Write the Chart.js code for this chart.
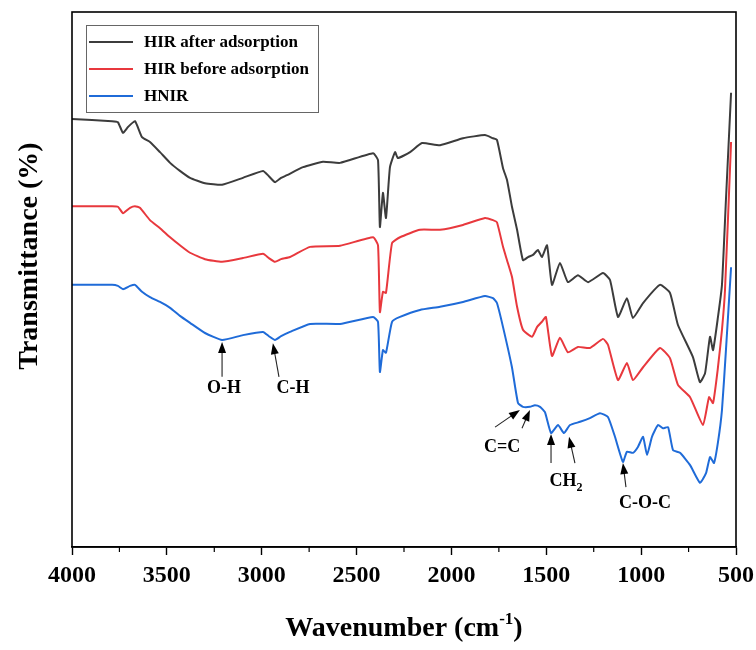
<!DOCTYPE html>
<html>
<head>
<meta charset="utf-8">
<script src="https://cdn.jsdelivr.net/npm/chart.js@4.4.1/dist/chart.umd.min.js"></script>
<style>
  html, body { margin: 0; padding: 0; background: #fff; }
  #wrap { width: 756px; height: 650px; }
</style>
</head>
<body>
<div id="wrap"><canvas id="ftir"></canvas></div>
<script>
// series meta
const seriesNames = ['HIR after adsorption', 'HIR before adsorption', 'HNIR'];
const seriesColors = ['#3c3c3c', '#e8383d', '#1f6bd8'];
const xTicks = [4000, 3500, 3000, 2500, 2000, 1500, 1000, 500];

// HIR after adsorption (black)
const afterWn = [4000, 3789, 3758, 3731, 3705, 3668, 3631, 3589, 3536, 3483, 3431, 3378, 3299, 3209, 3099, 2993, 2962, 2930, 2898, 2867, 2782, 2677, 2587, 2413, 2387, 2377, 2361, 2345, 2324, 2297, 2282, 2218, 2155, 2060, 1939, 1823, 1781, 1760, 1728, 1707, 1681, 1654, 1623, 1596, 1570, 1544, 1523, 1496, 1470, 1428, 1386, 1333, 1280, 1201, 1164, 1122, 1075, 1043, 990, 901, 848, 806, 727, 690, 663, 637, 621, 595, 574, 553, 526];
const afterT = [80.0, 79.6, 79.4, 77.4, 78.5, 79.6, 76.6, 75.7, 73.8, 71.8, 70.3, 69.0, 68.0, 67.7, 69.0, 70.3, 69.3, 68.2, 69.0, 69.5, 71.0, 72.0, 71.8, 73.6, 72.3, 59.8, 66.2, 61.5, 71.0, 73.8, 72.7, 73.8, 75.5, 75.1, 76.4, 77.0, 76.4, 76.1, 70.8, 68.6, 63.6, 59.3, 53.6, 54.2, 54.6, 55.5, 54.2, 56.4, 49.0, 53.1, 49.5, 50.8, 49.5, 51.2, 49.9, 43.0, 46.5, 42.8, 45.6, 49.0, 47.5, 41.5, 35.5, 30.8, 32.5, 39.3, 36.8, 43.0, 49.0, 64.9, 84.9];

// HIR before adsorption (red)
const beforeWn = [4000, 3789, 3758, 3731, 3694, 3668, 3642, 3589, 3536, 3483, 3431, 3378, 3299, 3209, 3099, 2993, 2962, 2930, 2898, 2851, 2745, 2587, 2413, 2387, 2377, 2361, 2345, 2313, 2271, 2166, 2060, 1939, 1823, 1781, 1760, 1728, 1707, 1681, 1654, 1623, 1575, 1549, 1523, 1502, 1470, 1428, 1386, 1333, 1270, 1201, 1175, 1122, 1075, 1043, 990, 901, 848, 806, 742, 674, 642, 621, 595, 574, 558, 526];
const beforeT = [63.7, 63.7, 63.6, 62.4, 63.4, 63.7, 63.4, 61.1, 59.6, 57.9, 56.4, 55.0, 53.8, 53.3, 54.0, 54.8, 54.0, 53.3, 53.8, 54.2, 56.1, 56.3, 57.9, 56.4, 43.9, 47.7, 47.5, 56.8, 57.9, 59.3, 59.3, 60.2, 61.5, 61.1, 60.7, 56.1, 53.6, 50.5, 44.9, 40.6, 39.3, 41.1, 42.1, 43.0, 35.7, 39.1, 36.4, 37.4, 37.2, 38.9, 37.8, 31.2, 34.4, 31.2, 33.6, 37.2, 35.3, 30.3, 28.0, 22.8, 28.0, 26.9, 33.6, 40.6, 48.0, 75.7];

// HNIR (blue)
const hnirWn = [4000, 3789, 3758, 3731, 3694, 3668, 3631, 3589, 3536, 3483, 3431, 3378, 3299, 3209, 3099, 2993, 2962, 2930, 2898, 2851, 2745, 2587, 2413, 2387, 2377, 2361, 2345, 2313, 2271, 2166, 2060, 1939, 1823, 1781, 1760, 1728, 1681, 1649, 1623, 1586, 1560, 1533, 1507, 1475, 1438, 1407, 1375, 1322, 1270, 1217, 1175, 1138, 1096, 1075, 1043, 1017, 990, 969, 943, 911, 885, 858, 832, 795, 742, 690, 658, 637, 616, 595, 574, 553, 526];
const hnirT = [49.0, 49.0, 48.8, 48.2, 48.8, 49.0, 47.7, 46.7, 45.8, 44.7, 43.2, 41.9, 40.0, 38.7, 39.6, 40.2, 39.4, 38.7, 39.4, 40.2, 41.7, 41.7, 43.0, 42.1, 32.7, 36.8, 36.3, 42.1, 43.0, 44.3, 44.9, 45.8, 46.9, 46.5, 45.6, 41.1, 33.6, 26.9, 26.2, 26.2, 26.5, 26.2, 25.2, 21.3, 22.8, 21.3, 22.8, 23.4, 24.1, 25.0, 24.3, 20.6, 15.9, 17.8, 17.6, 18.7, 20.6, 17.2, 20.6, 22.8, 22.2, 22.4, 18.1, 17.6, 15.3, 12.0, 13.8, 16.8, 15.7, 19.6, 25.6, 36.8, 52.3];

// peak assignments: arrows as [tipWn, tipT, tailWn, tailT], label position in data units
const peaks = [
  { text: 'O-H', arrows: [[3209, 38.3, 3209, 31.8]], at: [3199, 29.6] },
  { text: 'C-H', arrows: [[2941, 38.1, 2909, 31.8]], at: [2835, 29.6] },
  { text: 'C=C', arrows: [[1639, 25.6, 1770, 22.4], [1586, 25.6, 1628, 22.2]], at: [1733, 18.7] },
  { text: 'CH', sub: '2', arrows: [[1475, 21.1, 1475, 15.7], [1380, 20.6, 1349, 15.7]], at: [1396, 12.3] },
  { text: 'C-O-C', arrows: [[1096, 15.7, 1080, 11.2]], at: [980, 8.2] }
];

const SERIF = "'Liberation Serif', 'Times New Roman', 'DejaVu Serif', serif";

function toPoints(xs, ys) {
  return xs.map((x, i) => ({ x: x, y: ys[i] }));
}

function arrow(ctx, x1, y1, x2, y2) {
  const ang = Math.atan2(y2 - y1, x2 - x1);
  const len = 11, half = 4;
  ctx.beginPath();
  ctx.moveTo(x1, y1);
  ctx.lineTo(x2 - Math.cos(ang) * len * 0.7, y2 - Math.sin(ang) * len * 0.7);
  ctx.stroke();
  ctx.beginPath();
  ctx.moveTo(x2, y2);
  ctx.lineTo(x2 - len * Math.cos(ang) + half * Math.sin(ang), y2 - len * Math.sin(ang) - half * Math.cos(ang));
  ctx.lineTo(x2 - len * Math.cos(ang) - half * Math.sin(ang), y2 - len * Math.sin(ang) + half * Math.cos(ang));
  ctx.closePath();
  ctx.fill();
}

const decorPlugin = {
  id: 'decor',
  afterDraw(chart) {
    const ctx = chart.ctx;
    const area = chart.chartArea;
    const xs = chart.scales.x, ys = chart.scales.y;
    ctx.save();

    // frame
    ctx.strokeStyle = '#000';
    ctx.lineWidth = 1.6;
    ctx.strokeRect(area.left, area.top, area.right - area.left, area.bottom - area.top);

    // minor ticks
    ctx.lineWidth = 1.2;
    for (let v = 750; v < 4000; v += 500) {
      const px = xs.getPixelForValue(v);
      ctx.beginPath();
      ctx.moveTo(px, area.bottom);
      ctx.lineTo(px, area.bottom + 5);
      ctx.stroke();
    }

    // peak arrows and labels
    ctx.fillStyle = '#000';
    ctx.strokeStyle = '#222';
    ctx.lineWidth = 1.1;
    peaks.forEach(p => {
      p.arrows.forEach(a => {
        arrow(ctx, xs.getPixelForValue(a[2]), ys.getPixelForValue(a[3]),
          xs.getPixelForValue(a[0]), ys.getPixelForValue(a[1]));
      });
      const cx = xs.getPixelForValue(p.at[0]);
      const cy = ys.getPixelForValue(p.at[1]);
      ctx.font = 'bold 18px ' + SERIF;
      ctx.textBaseline = 'middle';
      if (p.sub) {
        const w1 = ctx.measureText(p.text).width;
        ctx.font = 'bold 12px ' + SERIF;
        const w2 = ctx.measureText(p.sub).width;
        const left = cx - (w1 + w2) / 2;
        ctx.font = 'bold 18px ' + SERIF;
        ctx.textAlign = 'left';
        ctx.fillText(p.text, left, cy);
        ctx.font = 'bold 12px ' + SERIF;
        ctx.fillText(p.sub, left + w1, cy + 7);
      } else {
        ctx.textAlign = 'center';
        ctx.fillText(p.text, cx, cy);
      }
    });

    // legend
    ctx.strokeStyle = '#666';
    ctx.lineWidth = 1;
    ctx.strokeRect(86.5, 25.5, 232, 87);
    ctx.font = 'bold 17px ' + SERIF;
    ctx.textAlign = 'left';
    ctx.textBaseline = 'middle';
    chart.data.datasets.forEach((ds, i) => {
      const y = 42 + i * 27;
      ctx.strokeStyle = ds.borderColor;
      ctx.lineWidth = 2;
      ctx.beginPath();
      ctx.moveTo(89, y);
      ctx.lineTo(133, y);
      ctx.stroke();
      ctx.fillStyle = '#000';
      ctx.fillText(ds.label, 144, y + 1);
    });

    // axis titles
    ctx.fillStyle = '#000';
    ctx.font = 'bold 28px ' + SERIF;
    ctx.save();
    ctx.translate(30, 256);
    ctx.rotate(-Math.PI / 2);
    ctx.textAlign = 'center';
    ctx.textBaseline = 'middle';
    ctx.fillText('Transmittance (%)', 0, 0);
    ctx.restore();

    const main = 'Wavenumber (cm';
    ctx.font = 'bold 28px ' + SERIF;
    const wMain = ctx.measureText(main).width;
    const wClose = ctx.measureText(')').width;
    ctx.font = 'bold 17px ' + SERIF;
    const wSup = ctx.measureText('-1').width;
    let x0 = (area.left + area.right) / 2 - (wMain + wSup + wClose) / 2;
    const base = 636;
    ctx.textAlign = 'left';
    ctx.textBaseline = 'alphabetic';
    ctx.font = 'bold 28px ' + SERIF;
    ctx.fillText(main, x0, base);
    ctx.font = 'bold 17px ' + SERIF;
    ctx.fillText('-1', x0 + wMain, base - 12);
    ctx.font = 'bold 28px ' + SERIF;
    ctx.fillText(')', x0 + wMain + wSup, base);

    ctx.restore();
  }
};

const datasets = [
  { label: seriesNames[0], data: toPoints(afterWn, afterT), borderColor: seriesColors[0] },
  { label: seriesNames[1], data: toPoints(beforeWn, beforeT), borderColor: seriesColors[1] },
  { label: seriesNames[2], data: toPoints(hnirWn, hnirT), borderColor: seriesColors[2] }
].map(ds => Object.assign(ds, { borderWidth: 2, pointRadius: 0, tension: 0.15, fill: false }));

new Chart(document.getElementById('ftir'), {
  type: 'line',
  data: { datasets: datasets },
  options: {
    responsive: true,
    maintainAspectRatio: false,
    animation: false,
    devicePixelRatio: 1,
    layout: { padding: { top: 12, right: 20, left: 0, bottom: 0 } },
    plugins: { legend: { display: false }, tooltip: { enabled: false } },
    scales: {
      x: {
        type: 'linear',
        reverse: true,
        min: 500,
        max: 4000,
        afterBuildTicks: scale => { scale.ticks = xTicks.map(v => ({ value: v })); },
        afterFit: scale => {
          scale.height = 103;
          scale.paddingLeft = 0;
          scale.paddingRight = 0;
        },
        ticks: {
          color: '#000',
          padding: 6,
          maxRotation: 0,
          callback: v => String(v),
          font: { family: SERIF, size: 24, weight: 'bold' }
        },
        grid: { display: true, drawOnChartArea: false, drawTicks: true, tickLength: 8, tickColor: '#000', tickWidth: 1.4 },
        border: { display: true, color: '#000', width: 1.6 }
      },
      y: {
        min: 0,
        max: 100,
        afterFit: scale => { scale.width = 72; },
        ticks: { display: false },
        grid: { display: false },
        border: { display: false }
      }
    }
  },
  plugins: [decorPlugin]
});
</script>
</body>
</html>
